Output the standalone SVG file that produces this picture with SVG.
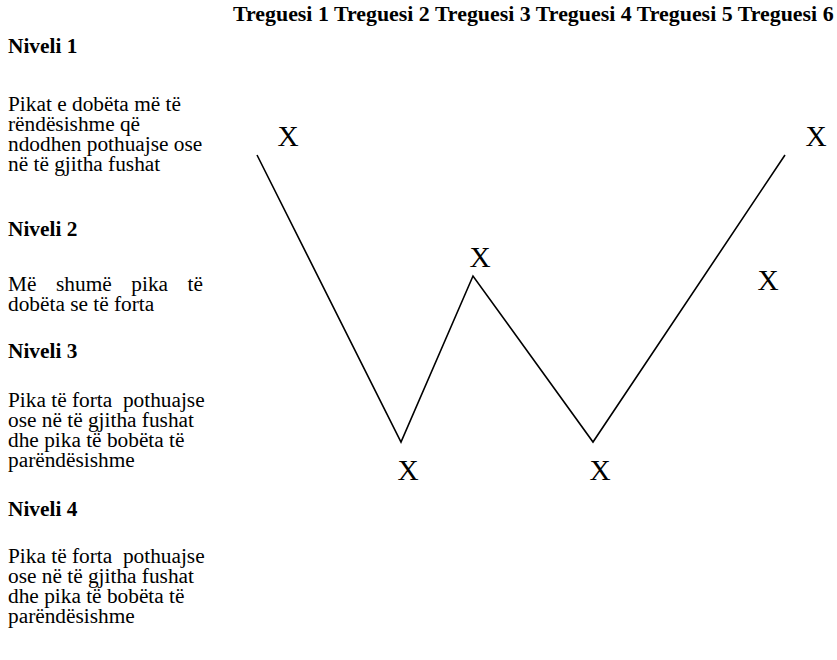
<svg xmlns="http://www.w3.org/2000/svg" width="837" height="660" viewBox="0 0 837 660">
<style>
text{font-family:"Liberation Serif","Times New Roman",serif;fill:#000}
.h{font-size:21.33px;font-weight:bold}
.t{font-size:21.9px;font-weight:bold}
.b{font-size:21.33px}
.x{font-size:29.3px;text-anchor:middle}
.ln{fill:none;stroke:#000;stroke-width:1.6;stroke-linejoin:miter}
</style>
<rect width="837" height="660" fill="#fff"/>
<g id="header"><text class="t" x="233" y="21">Treguesi 1 Treguesi 2 Treguesi 3 Treguesi 4 Treguesi 5 Treguesi 6</text></g>
<g id="niveli1">
<text class="h" x="8" y="53">Niveli 1</text>
<text class="b" x="8" y="111">Pikat e dobëta më të</text>
<text class="b" x="8" y="131">rëndësishme që</text>
<text class="b" x="8" y="151">ndodhen pothuajse ose</text>
<text class="b" x="8" y="171">në të gjitha fushat</text>
</g>
<g id="niveli2">
<text class="h" x="8" y="236">Niveli 2</text>
<text class="b" y="291"><tspan x="8">Më</tspan><tspan x="56">shumë</tspan><tspan x="131.3">pika</tspan><tspan x="187.6">të</tspan></text>
<text class="b" x="8" y="311">dobëta se të forta</text>
</g>
<g id="niveli3">
<text class="h" x="8" y="358">Niveli 3</text>
<text class="b" x="8" y="407" xml:space="preserve">Pika të forta  pothuajse</text>
<text class="b" x="8" y="427">ose në të gjitha fushat</text>
<text class="b" x="8" y="447">dhe pika të bobëta të</text>
<text class="b" x="8" y="467">parëndësishme</text>
</g>
<g id="niveli4">
<text class="h" x="8" y="516">Niveli 4</text>
<text class="b" x="8" y="563" xml:space="preserve">Pika të forta  pothuajse</text>
<text class="b" x="8" y="583">ose në të gjitha fushat</text>
<text class="b" x="8" y="603">dhe pika të bobëta të</text>
<text class="b" x="8" y="623">parëndësishme</text>
</g>
<g id="connectors">
<polyline class="ln" points="257,155 401,442 473,276 593,442 785,155"/>
</g>
<g id="x1"><text class="x" x="288" y="146">X</text></g>
<g id="x2"><text class="x" x="480" y="267">X</text></g>
<g id="x3"><text class="x" x="408" y="480">X</text></g>
<g id="x4"><text class="x" x="600" y="480">X</text></g>
<g id="x5"><text class="x" x="768" y="290">X</text></g>
<g id="x6"><text class="x" x="816" y="146">X</text></g>
</svg>
